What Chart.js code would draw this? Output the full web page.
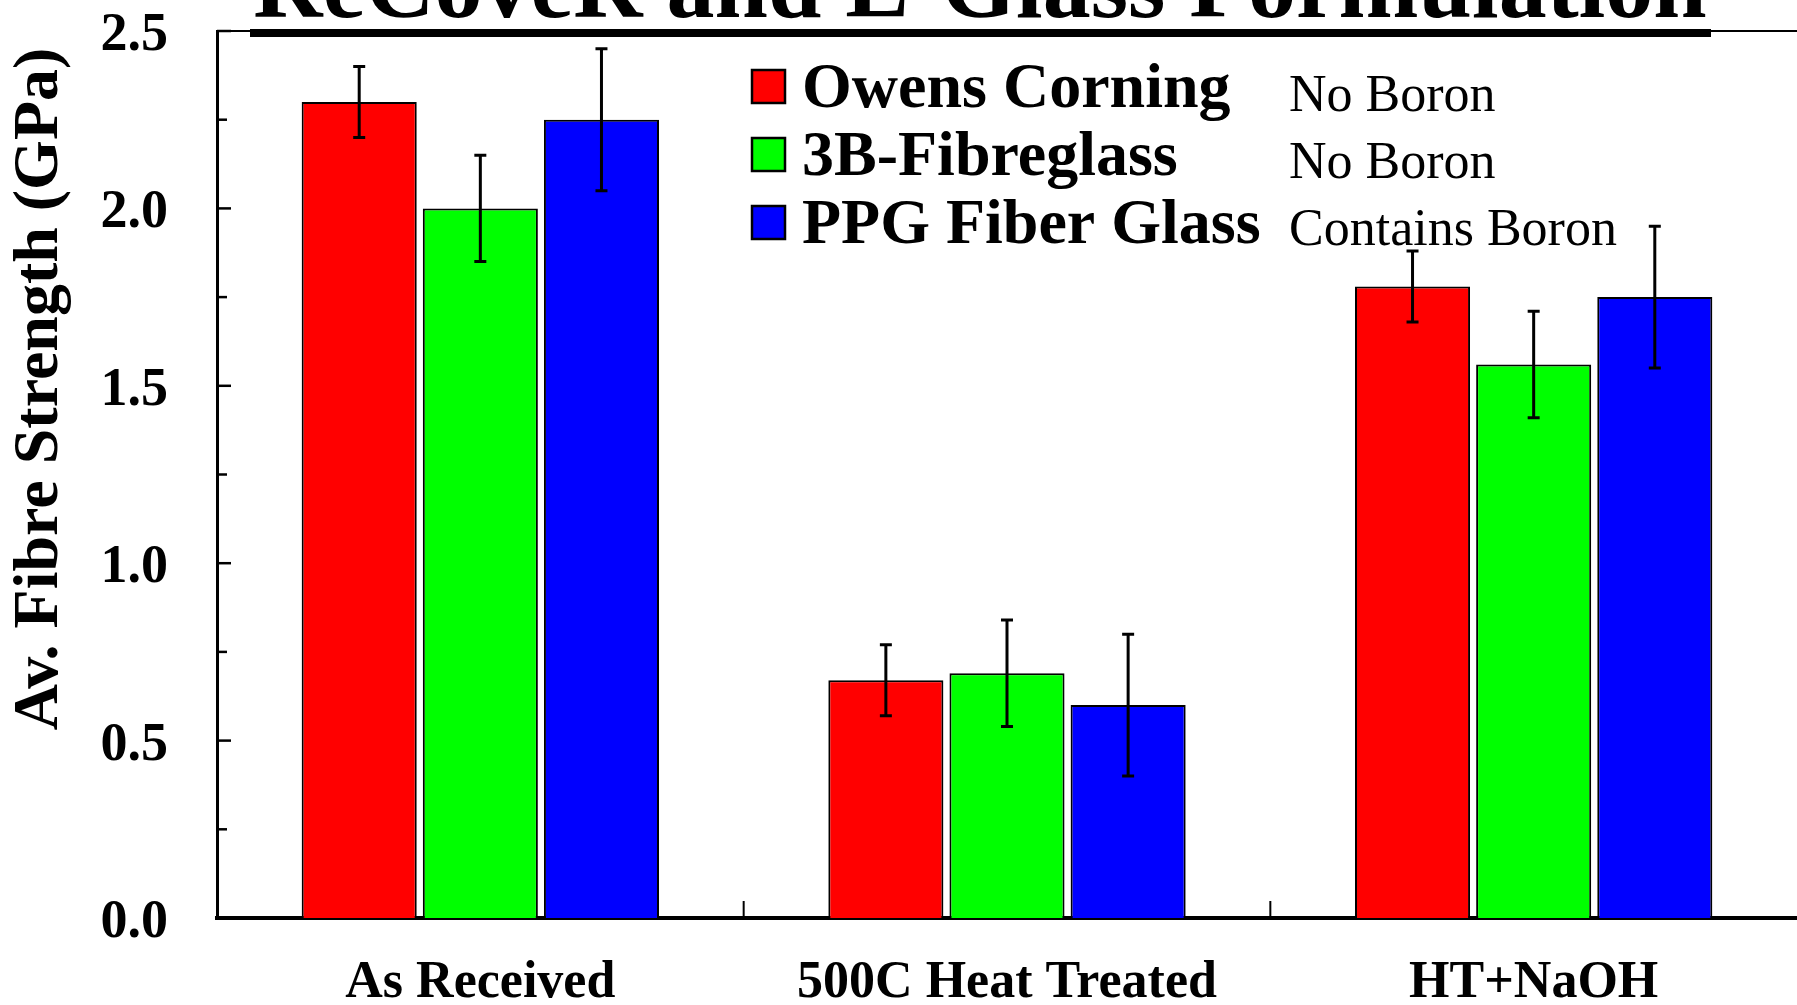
<!DOCTYPE html>
<html>
<head>
<meta charset="utf-8">
<script src="https://cdn.jsdelivr.net/npm/chart.js"></script>
<style>
  html, body { margin: 0; padding: 0; background: #fff; overflow: hidden; }
  canvas { display: block; }
</style>
</head>
<body>
<canvas id="fibreChart" width="1797" height="1005"></canvas>
<script>
var titleText = 'ReCoveR and E-Glass Formulation';
var yAxisTitle = 'Av. Fibre Strength (GPa)';
var categories = ['As Received', '500C Heat Treated', 'HT+NaOH'];
var seriesNames = ['Owens Corning', '3B-Fibreglass', 'PPG Fiber Glass'];
var seriesNotes = ['No Boron', 'No Boron', 'Contains Boron'];
var seriesColors = ['#ff0000', '#00ff00', '#0000ff'];
var owensCorning = [2.30, 0.67, 1.78];
var threeB = [2.00, 0.69, 1.56];
var ppg = [2.25, 0.60, 1.75];
var owensErr = [0.10, 0.10, 0.10];
var threeBErr = [0.15, 0.15, 0.15];
var ppgErr = [0.20, 0.20, 0.20];
var yTickLabels = ['0.0', '0.5', '1.0', '1.5', '2.0', '2.5'];

var serif = "'Liberation Serif', 'Times New Roman', serif";

// error bars, tick marks, title, legend
var decorPlugin = {
	id: 'decor',
	afterDatasetsDraw: function(chart) {
		var ctx = chart.ctx;
		var yScale = chart.scales.y;
		ctx.save();
		ctx.strokeStyle = '#000';
		ctx.lineWidth = 3;
		chart.data.datasets.forEach(function(ds, i) {
			var meta = chart.getDatasetMeta(i);
			meta.data.forEach(function(bar, j) {
				var top = yScale.getPixelForValue(ds.data[j] + ds.errors[j]);
				var bot = yScale.getPixelForValue(ds.data[j] - ds.errors[j]);
				ctx.beginPath();
				ctx.moveTo(bar.x, top); ctx.lineTo(bar.x, bot);
				ctx.moveTo(bar.x - 6, top); ctx.lineTo(bar.x + 6, top);
				ctx.moveTo(bar.x - 6, bot); ctx.lineTo(bar.x + 6, bot);
				ctx.stroke();
			});
		});
		ctx.restore();
	},
	afterDraw: function(chart) {
		var ctx = chart.ctx;
		var area = chart.chartArea;
		var xScale = chart.scales.x, yScale = chart.scales.y;
		ctx.save();
		ctx.strokeStyle = '#000';

		// y tick marks, pointing inward
		ctx.lineWidth = 2.5;
		yScale.ticks.forEach(function(t) {
			var py = yScale.getPixelForValue(t.value);
			var q = t.value / 0.5;
			var len = Math.abs(q - Math.round(q)) < 1e-6 ? 14 : 10;
			ctx.beginPath();
			ctx.moveTo(area.left, py); ctx.lineTo(area.left + len, py);
			ctx.stroke();
		});

		// x tick marks between categories
		ctx.lineWidth = 2;
		for (var i = 0; i < categories.length - 1; i++) {
			var px = (xScale.getPixelForValue(i) + xScale.getPixelForValue(i + 1)) / 2;
			ctx.beginPath();
			ctx.moveTo(px, area.bottom); ctx.lineTo(px, area.bottom - 17);
			ctx.stroke();
		}

		// top frame line
		ctx.lineWidth = 2;
		ctx.beginPath();
		ctx.moveTo(area.left, area.top); ctx.lineTo(chart.width, area.top);
		ctx.stroke();

		// title (cut at the top) and its underline
		ctx.fillStyle = '#000';
		ctx.font = 'bold 96px ' + serif;
		ctx.textAlign = 'center';
		ctx.textBaseline = 'alphabetic';
		ctx.fillText(titleText, 980, 17);
		ctx.fillRect(250, 29, 1461, 8);

		// y axis title
		ctx.save();
		ctx.translate(40, 389);
		ctx.rotate(-Math.PI / 2);
		ctx.font = 'bold 64px ' + serif;
		ctx.textAlign = 'center';
		ctx.textBaseline = 'middle';
		ctx.fillText(yAxisTitle, 0, 0);
		ctx.restore();

		// legend with notes
		chart.data.datasets.forEach(function(ds, i) {
			var top = 70 + 68 * i;
			ctx.fillStyle = ds.backgroundColor;
			ctx.fillRect(752, top, 33, 33);
			ctx.lineWidth = 2.5;
			ctx.strokeRect(752, top, 33, 33);
			ctx.fillStyle = '#000';
			ctx.textAlign = 'left';
			ctx.textBaseline = 'alphabetic';
			ctx.font = 'bold 64px ' + serif;
			ctx.fillText(ds.label, 802, 107 + 68 * i);
			ctx.font = '52px ' + serif;
			ctx.fillText(seriesNotes[i], 1289, 111 + 67 * i);
		});
		ctx.restore();
	}
};

var ctx = document.getElementById('fibreChart');
var fibreChart = new Chart(ctx, {
	type: 'bar',
	data: {
		labels: categories,
		datasets: [
			{ label: seriesNames[0], data: owensCorning, errors: owensErr, backgroundColor: seriesColors[0] },
			{ label: seriesNames[1], data: threeB, errors: threeBErr, backgroundColor: seriesColors[1] },
			{ label: seriesNames[2], data: ppg, errors: ppgErr, backgroundColor: seriesColors[2] }
		].map(function(d) {
			d.borderColor = '#000';
			d.borderWidth = 2;
			d.categoryPercentage = 0.69;
			d.barPercentage = 0.95;
			return d;
		})
	},
	plugins: [decorPlugin],
	options: {
		responsive: false,
		animation: false,
		devicePixelRatio: 1,
		layout: { padding: { top: 31, right: 0, bottom: 0, left: 0 } },
		plugins: {
			legend: { display: false },
			title: { display: false },
			tooltip: { enabled: false }
		},
		scales: {
			x: {
				grid: { display: false },
				border: { display: true, color: '#000', width: 4 },
				ticks: {
					color: '#000',
					font: { family: serif, size: 52, weight: 'bold' },
					padding: 26,
					maxRotation: 0,
					autoSkip: false
				},
				afterFit: function(s) { s.height = 87; s.paddingLeft = 0; s.paddingRight = 0; }
			},
			y: {
				min: 0,
				max: 2.5,
				grid: { display: false },
				border: { display: true, color: '#000', width: 3 },
				ticks: {
					stepSize: 0.25,
					color: '#000',
					font: { family: serif, size: 54, weight: 'bold' },
					padding: 41,
					labelOffset: 5,
					autoSkip: false,
					callback: function(v) {
						var q = v / 0.5;
						if (Math.abs(q - Math.round(q)) > 1e-6) return '';
						return yTickLabels[Math.round(q)];
					}
				},
				afterFit: function(s) { s.width = 217; s.paddingTop = 0; s.paddingBottom = 0; }
			}
		}
	}
});
</script>
</body>
</html>
